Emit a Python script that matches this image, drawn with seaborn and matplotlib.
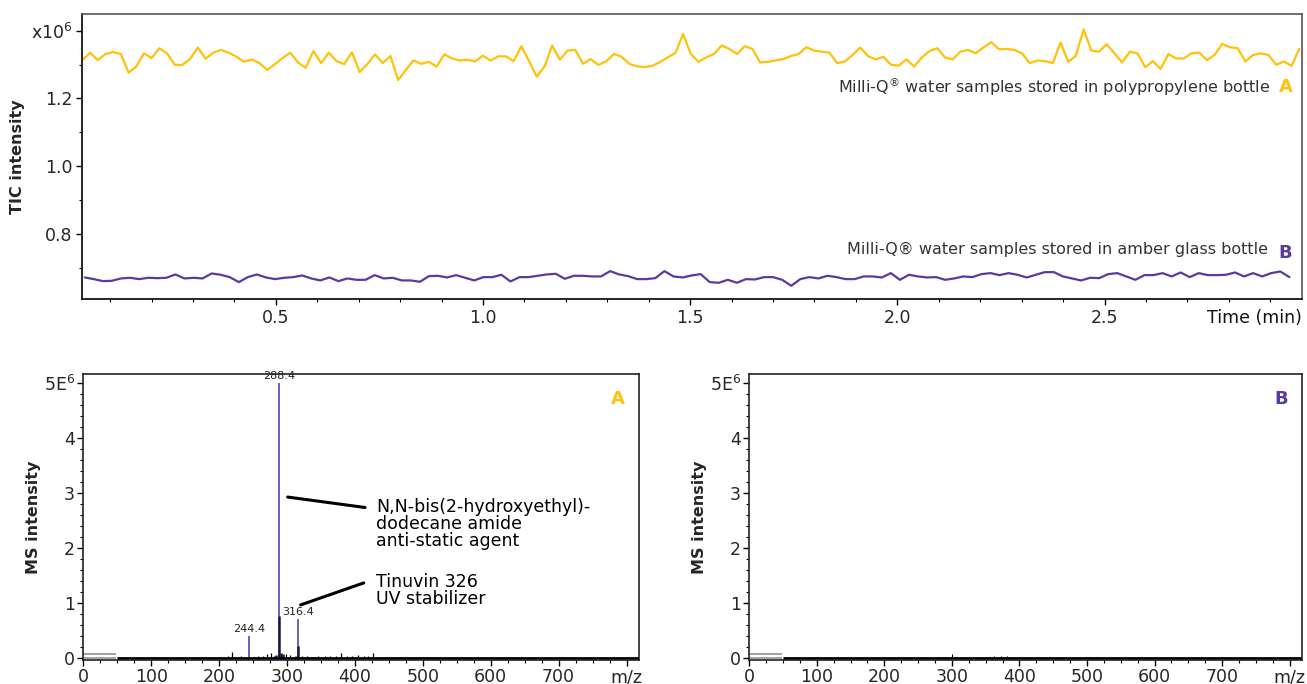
import numpy as np
import pandas as pd
import matplotlib
matplotlib.use("Agg")
import matplotlib.pyplot as plt
import seaborn as sns
from matplotlib.ticker import MultipleLocator

# ---------------- data ----------------
# TIC traces (x10^6), evenly spaced scans
tic_a = [1.313, 1.335, 1.313, 1.331, 1.337, 1.331, 1.276, 1.294, 1.333, 1.319,
         1.348, 1.333, 1.299, 1.299, 1.317, 1.350, 1.317, 1.335, 1.343, 1.335,
         1.323, 1.308, 1.315, 1.304, 1.284, 1.301, 1.319, 1.335, 1.306, 1.290,
         1.340, 1.304, 1.335, 1.310, 1.301, 1.336, 1.278, 1.301, 1.330, 1.304,
         1.325, 1.254, 1.284, 1.312, 1.302, 1.308, 1.294, 1.330,
         1.318, 1.312, 1.314, 1.309, 1.326, 1.312, 1.324, 1.324, 1.310, 1.354,
         1.310, 1.264, 1.294, 1.356, 1.314, 1.341, 1.343, 1.302, 1.316, 1.299,
         1.309, 1.331, 1.323, 1.302, 1.295, 1.292, 1.296, 1.307, 1.321, 1.334,
         1.390, 1.331, 1.308, 1.321, 1.331, 1.356, 1.346, 1.331, 1.354, 1.346,
         1.306, 1.308, 1.312, 1.316, 1.325, 1.331, 1.351, 1.341, 1.338,
         1.335, 1.304, 1.309, 1.328, 1.350, 1.325, 1.315, 1.323, 1.299, 1.297,
         1.315, 1.294, 1.321, 1.340, 1.348, 1.321, 1.315, 1.338, 1.343, 1.333,
         1.350, 1.366, 1.345, 1.346, 1.343, 1.333, 1.304, 1.312, 1.310, 1.304,
         1.365, 1.308, 1.326, 1.404, 1.341, 1.338, 1.360, 1.333, 1.306, 1.338,
         1.333, 1.292, 1.310, 1.287, 1.331, 1.318, 1.318, 1.333, 1.335, 1.313,
         1.328, 1.361, 1.351, 1.348, 1.309, 1.328, 1.333, 1.328, 1.299, 1.309,
         1.296, 1.346]

tic_b = [0.6715, 0.6666, 0.6607, 0.6617, 0.6686, 0.6705, 0.6666, 0.6705, 0.6695, 0.6705,
         0.6804, 0.6686, 0.6705, 0.6686, 0.6833, 0.6794, 0.6725, 0.6578, 0.6725, 0.6804,
         0.6715, 0.6666, 0.6705, 0.6725, 0.6774, 0.6686, 0.6627, 0.6715, 0.6607, 0.6686,
         0.6646, 0.6646, 0.6784, 0.6686, 0.6705, 0.6627, 0.6627, 0.6587, 0.6754, 0.6764,
         0.6715,
         0.6784, 0.6705, 0.6627, 0.6725, 0.6725, 0.6794, 0.6597, 0.6725, 0.6725, 0.6764,
         0.6804, 0.6823, 0.6676, 0.6764, 0.6764, 0.6745, 0.6745, 0.6902, 0.6804, 0.6754,
         0.6666, 0.6666, 0.6696, 0.6902, 0.6745, 0.6715, 0.6774, 0.6814, 0.6578, 0.6558,
         0.6646, 0.6558, 0.6666, 0.6656, 0.6725, 0.6725, 0.6646, 0.6469, 0.6666, 0.6725,
         0.6686, 0.6764,
         0.6725, 0.6666, 0.6666, 0.6745, 0.6745, 0.6715, 0.6843, 0.6646, 0.6794, 0.6745,
         0.6715, 0.6725, 0.6646, 0.6686, 0.6745, 0.6725, 0.6813, 0.6843, 0.6784, 0.6843,
         0.6794, 0.6715, 0.6794, 0.6872, 0.6872, 0.6745, 0.6686, 0.6627, 0.6705, 0.6695,
         0.6813, 0.6843, 0.6745, 0.6646, 0.6784, 0.6784, 0.6843, 0.6745, 0.6862, 0.6725,
         0.6843, 0.6784, 0.6784, 0.6794, 0.6862, 0.6745, 0.6843, 0.6745, 0.6843, 0.6892,
         0.6725]

time_a_range = (0.033, 2.970)
time_b_range = (0.039, 2.946)

label_a = "Milli-Q$^{®}$ water samples stored in polypropylene bottle"
label_b = "Milli-Q® water samples stored in amber glass bottle"

# MS spectrum A (intensity x10^6)
peak_mz = [244.4, 288.4, 316.4]
peak_int = [0.41, 5.00, 0.72]
peak_labels = ["244.4", "288.4", "316.4"]
dark_mz = [287.9, 315.9, 290.6, 283.2, 312.8, 294.0]
dark_int = [0.77, 0.22, 0.09, 0.06, 0.05, 0.07]
noise_a_mz = [62, 75, 90, 104, 118, 131, 147, 160, 175, 189, 201, 213, 219, 226, 232,
              252, 258, 265, 270, 276, 281, 299, 305, 322, 330, 338, 346, 356, 364,
              372, 379, 388, 396, 405, 413, 420, 426, 436, 448, 460, 472, 485, 498,
              510, 525, 540, 556, 572, 590, 608, 625, 645, 665, 690, 715, 745, 775, 800]
noise_a_int = [0.01, 0.01, 0.015, 0.01, 0.015, 0.01, 0.02, 0.015, 0.02, 0.02, 0.03, 0.05, 0.11, 0.03, 0.04,
               0.03, 0.04, 0.05, 0.08, 0.09, 0.05, 0.08, 0.06, 0.04, 0.05, 0.03, 0.04, 0.05, 0.04,
               0.05, 0.10, 0.04, 0.05, 0.06, 0.04, 0.05, 0.09, 0.03, 0.03, 0.02, 0.03, 0.02, 0.02,
               0.02, 0.02, 0.015, 0.02, 0.015, 0.02, 0.015, 0.02, 0.015, 0.02, 0.01, 0.015, 0.01, 0.01, 0.01]
# MS spectrum B
noise_b_mz = [180, 205, 222, 240, 262, 280, 300, 318, 335, 350, 362, 372, 381, 395, 410,
              428, 445, 462, 480, 498, 515, 535, 555, 575, 600, 625, 650, 680, 710]
noise_b_int = [0.01, 0.02, 0.03, 0.02, 0.02, 0.03, 0.07, 0.03, 0.03, 0.03, 0.04, 0.04, 0.05, 0.03, 0.03,
               0.03, 0.03, 0.03, 0.03, 0.03, 0.02, 0.03, 0.02, 0.02, 0.02, 0.02, 0.015, 0.015, 0.01]

YELLOW = "#FFC20A"
PURPLE = "#5B3A9F"
PEAK_PURPLE = "#6B4FB5"

# ---------------- style ----------------
sns.set_theme(style="ticks")
plt.rcParams["font.family"] = ["DejaVu Sans"]
plt.rcParams["mathtext.fontset"] = "dejavusans"

fig = plt.figure(figsize=(13.07, 6.84), dpi=100)
ax_top = fig.add_axes([0.063, 0.5629, 0.933, 0.4166])
ax_a = fig.add_axes([0.0637, 0.0351, 0.425, 0.4177])
ax_b = fig.add_axes([0.5733, 0.0351, 0.4227, 0.4177])

# ---------------- top TIC ----------------
df_a = pd.DataFrame({"time": np.linspace(*time_a_range, len(tic_a)), "tic": tic_a})
df_b = pd.DataFrame({"time": np.linspace(*time_b_range, len(tic_b)), "tic": tic_b})
sns.lineplot(data=df_a, x="time", y="tic", color=YELLOW, lw=1.6, ax=ax_top)
sns.lineplot(data=df_b, x="time", y="tic", color=PURPLE, lw=1.6, ax=ax_top)

ax_top.set_xlim(0.033, 2.976)
ax_top.set_ylim(0.608, 1.449)
ax_top.set_xticks([0.5, 1.0, 1.5, 2.0, 2.5])
ax_top.set_xticklabels(["0.5", "1.0", "1.5", "2.0", "2.5"])
ax_top.set_yticks([0.8, 1.0, 1.2, 1.4])
ax_top.set_yticklabels(["0.8", "1.0", "1.2", "x10$^{6}$"])
ax_top.xaxis.set_minor_locator(MultipleLocator(0.1))
ax_top.yaxis.set_minor_locator(MultipleLocator(0.1))
ax_top.set_xlabel("")
ax_top.set_ylabel("TIC intensity", fontsize=11.5, fontweight="bold", labelpad=4)
ax_top.text(1.0, -0.035, "Time (min)", transform=ax_top.transAxes, ha="right", va="top",
            fontsize=12.5, color="#111111")
ax_top.text(0.974, 0.744, label_a, transform=ax_top.transAxes, ha="right", va="center",
            fontsize=11.5, color="#333333")
ax_top.text(0.987, 0.744, "A", transform=ax_top.transAxes, ha="center", va="center",
            fontsize=13, color=YELLOW, fontweight="bold")
ax_top.text(0.972, 0.172, label_b, transform=ax_top.transAxes, ha="right", va="center",
            fontsize=11.5, color="#333333")
ax_top.text(0.9866, 0.161, "B", transform=ax_top.transAxes, ha="center", va="center",
            fontsize=13, color=PURPLE, fontweight="bold")
for s in ["top", "right"]:
    ax_top.spines[s].set_color("#555555")
for s in ["left", "bottom"]:
    ax_top.spines[s].set_color("black")
for s in ax_top.spines.values():
    s.set_linewidth(1.2)
ax_top.tick_params(axis="both", which="major", length=4, width=1, labelsize=12.5, pad=3, color="black")
ax_top.tick_params(axis="both", which="minor", length=2.5, width=0.8, color="black")


# ---------------- spectra ----------------
def style_spectrum(ax, letter, color):
    ax.set_xlim(0, 818)
    ax.set_ylim(-0.03, 5.16)
    ax.set_xticks(list(range(0, 801, 100)))
    ax.set_xticklabels(["0", "100", "200", "300", "400", "500", "600", "700", "m/z"])
    ax.set_yticks([0, 1, 2, 3, 4, 5])
    ax.set_yticklabels(["0", "1", "2", "3", "4", "5E$^{6}$"])
    ax.xaxis.set_minor_locator(MultipleLocator(25))
    ax.yaxis.set_minor_locator(MultipleLocator(0.2))
    ax.set_ylabel("MS intensity", fontsize=11.5, fontweight="bold", labelpad=2)
    for s in ax.spines.values():
        s.set_color("#222222")
        s.set_linewidth(1.2)
        s.set_visible(True)
    ax.tick_params(axis="both", which="major", length=4, width=1, labelsize=12.5, pad=2, color="black")
    ax.tick_params(axis="both", which="minor", length=2, width=0.8, color="black")
    ax.text(0.963, 0.914, letter, transform=ax.transAxes, ha="center", va="center",
            fontsize=13, color=color, fontweight="bold")
    ax.hlines([0.0, 0.07], 0, 48, color="#9a9a9a", lw=1.3)
    ax.hlines(0, 50, 818, color="black", lw=2.0)


# Panel A
ax_a.vlines(noise_a_mz, 0, noise_a_int, color="black", lw=0.9)
ax_a.vlines(peak_mz, 0, peak_int, color=PEAK_PURPLE, lw=1.3)
ax_a.vlines(dark_mz, 0, dark_int, color="#1c1840", lw=1.8)
for mz, h, lab in zip(peak_mz, peak_int, peak_labels):
    ax_a.text(mz, h + 0.03, lab, ha="center", va="bottom", fontsize=8, color="#222222")
ax_a.plot([301, 415], [2.93, 2.74], color="black", lw=2.2)
ax_a.plot([320, 413], [0.97, 1.37], color="black", lw=2.2)
ax_a.text(431, 2.92, "N,N-bis(2-hydroxyethyl)-\ndodecane amide\nanti-static agent",
          ha="left", va="top", fontsize=12.5, linespacing=0.95, color="black")
ax_a.text(431, 1.55, "Tinuvin 326\nUV stabilizer",
          ha="left", va="top", fontsize=12.5, linespacing=0.95, color="black")
style_spectrum(ax_a, "A", YELLOW)

# Panel B
ax_b.vlines(noise_b_mz, 0, noise_b_int, color="black", lw=0.8)
style_spectrum(ax_b, "B", PURPLE)

fig.savefig("out.png", dpi=100)
